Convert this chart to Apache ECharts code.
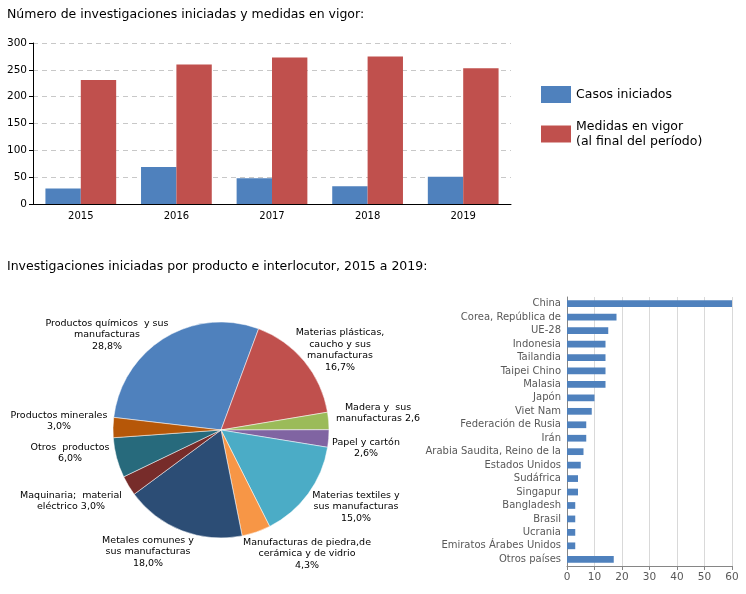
<!DOCTYPE html>
<html>
<head>
<meta charset="utf-8">
<script src="https://cdn.jsdelivr.net/npm/echarts@6/dist/echarts.min.js"></script>
<style>
  html, body { margin: 0; padding: 0; background: #fff; }
  #chart { width: 746px; height: 594px; }
</style>
</head>
<body>
<div id="chart"></div>
<script>
// Datos del gráfico superior
const years = ['2015', '2016', '2017', '2018', '2019'];
const casosIniciados = [29, 69, 48, 33, 51];
const medidasVigor = [231, 260, 273, 275, 253];

// Datos del gráfico circular (por producto)
const productos = [
    'Productos químicos  y sus\nmanufacturas\n28,8%',
    'Materias plásticas,\ncaucho y sus\nmanufacturas\n16,7%',
    'Madera y  sus\nmanufacturas 2,6',
    'Papel y cartón\n2,6%',
    'Materias textiles y\nsus manufacturas\n15,0%',
    'Manufacturas de piedra,de\ncerámica y de vidrio\n4,3%',
    'Metales comunes y\nsus manufacturas\n18,0%',
    'Maquinaria;  material\neléctrico 3,0%',
    'Otros  productos\n6,0%',
    'Productos minerales\n3,0%'
];
const productoPct = [28.8, 16.7, 2.6, 2.6, 15.0, 4.3, 18.0, 3.0, 6.0, 3.0];
const productoColors = ['#4F81BD', '#C0504D', '#9BBB59', '#8064A2', '#4BACC6',
    '#F79646', '#2C4D75', '#772C2A', '#276A7C', '#B65708'];

// Datos del gráfico de barras horizontales (por interlocutor)
const paises = ['China', 'Corea, República de', 'UE-28', 'Indonesia', 'Tailandia',
    'Taipei Chino', 'Malasia', 'Japón', 'Viet Nam', 'Federación de Rusia', 'Irán',
    'Arabia Saudita, Reino de la', 'Estados Unidos', 'Sudáfrica', 'Singapur',
    'Bangladesh', 'Brasil', 'Ucrania', 'Emiratos Árabes Unidos', 'Otros países'];
const paisValores = [60, 18, 15, 14, 14, 14, 14, 10, 9, 7, 7, 6, 5, 4, 4, 3, 3, 3, 3, 17];

// Posiciones de las etiquetas del pastel (centro del texto)
const pieLabelPos = [
    [107, 335], [340, 350], [378, 413], [366, 448], [356, 507],
    [307, 554], [148, 552], [71, 501], [70, 453], [59, 421]
];

const FONT = 'DejaVu Sans';

const chart = echarts.init(document.getElementById('chart'));

const option = {
    animation: false,
    textStyle: { fontFamily: FONT },
    title: [
        {
            text: 'Número de investigaciones iniciadas y medidas en vigor:',
            left: 2, top: 3,
            textStyle: { fontFamily: FONT, fontSize: 12.5, fontWeight: 'normal', color: '#000' }
        },
        {
            text: 'Investigaciones iniciadas por producto e interlocutor, 2015 a 2019:',
            left: 2, top: 255,
            textStyle: { fontFamily: FONT, fontSize: 12.5, fontWeight: 'normal', color: '#000' }
        }
    ],
    legend: {
        orient: 'vertical',
        left: 536, top: 81,
        itemWidth: 30, itemHeight: 17,
        itemGap: 16,
        icon: 'rect',
        data: ['Casos iniciados', 'Medidas en vigor\n(al final del período)'],
        textStyle: { fontFamily: FONT, fontSize: 12.5, color: '#000', lineHeight: 15 }
    },
    grid: [
        { left: 33, right: 235, top: 43, bottom: 390 },
        { left: 567, right: 14, top: 297, bottom: 28 }
    ],
    xAxis: [
        {
            gridIndex: 0,
            type: 'category',
            data: years,
            axisLine: { lineStyle: { color: '#000' } },
            axisTick: { length: 4, lineStyle: { color: '#000' } },
            axisLabel: { color: '#000', fontSize: 10, fontWeight: 500, margin: 7 }
        },
        {
            gridIndex: 1,
            type: 'value',
            min: 0, max: 60, interval: 10,
            axisLine: { show: true, lineStyle: { color: '#868686' } },
            axisTick: { show: true, length: 4, lineStyle: { color: '#868686' } },
            axisLabel: { color: '#595959', fontSize: 10.5, margin: 6 },
            splitLine: { show: true, lineStyle: { color: '#d9d9d9' } }
        }
    ],
    yAxis: [
        {
            gridIndex: 0,
            type: 'value',
            min: 0, max: 300, interval: 50,
            axisLine: { show: true, lineStyle: { color: '#000' } },
            axisTick: { show: true, length: 4, lineStyle: { color: '#000' } },
            axisLabel: { color: '#000', fontSize: 10.5, margin: 6 },
            splitLine: { lineStyle: { color: '#c8c8c8', type: [5, 4] } }
        },
        {
            gridIndex: 1,
            type: 'category',
            inverse: true,
            data: paises,
            axisLine: { lineStyle: { color: '#868686' } },
            axisTick: { length: 4, interval: 0, lineStyle: { color: '#868686' } },
            axisLabel: { color: '#595959', fontSize: 10, margin: 6, interval: 0 }
        }
    ],
    series: [
        {
            name: 'Casos iniciados',
            type: 'bar',
            xAxisIndex: 0, yAxisIndex: 0,
            data: casosIniciados,
            barGap: '0%',
            barCategoryGap: '26%',
            itemStyle: { color: '#4F81BD' }
        },
        {
            name: 'Medidas en vigor\n(al final del período)',
            type: 'bar',
            xAxisIndex: 0, yAxisIndex: 0,
            data: medidasVigor,
            itemStyle: { color: '#C0504D' }
        },
        {
            name: 'Interlocutor',
            type: 'bar',
            xAxisIndex: 1, yAxisIndex: 1,
            data: paisValores,
            barWidth: '50%',
            itemStyle: { color: '#4F81BD' }
        },
        {
            name: 'Producto',
            type: 'pie',
            center: [221, 430],
            radius: 108,
            startAngle: 173.3,
            clockwise: true,
            data: productoPct.map((v, i) => ({
                value: v,
                name: productos[i],
                itemStyle: { color: productoColors[i] }
            })),
            itemStyle: { borderColor: '#fff', borderWidth: 0.5 },
            label: {
                show: true,
                position: 'outside',
                formatter: '{b}',
                fontFamily: FONT,
                fontSize: 9.5,
                lineHeight: 11.7,
                color: '#000',
                align: 'center',
                overflow: 'none',
                width: 200
            },
            labelLine: { show: false },
            labelLayout: function (params) {
                const p = pieLabelPos[params.dataIndex];
                return { x: p[0], y: p[1], align: 'center', verticalAlign: 'middle' };
            },
            emphasis: { disabled: true }
        }
    ]
};

chart.setOption(option);

window.addEventListener('resize', function () {
    chart.resize();
});
</script>
</body>
</html>
